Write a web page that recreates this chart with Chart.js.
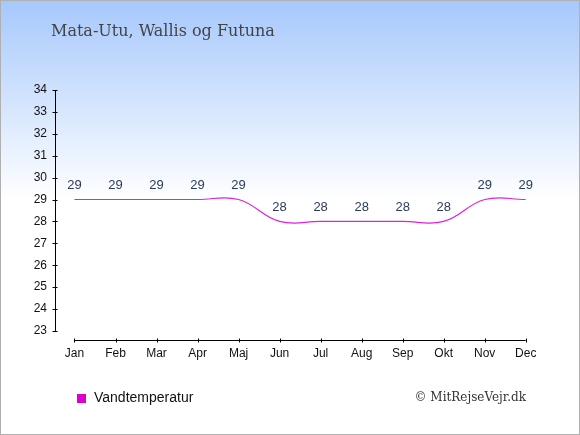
<!DOCTYPE html>
<html>
<head>
<meta charset="utf-8">
<script src="https://cdn.jsdelivr.net/npm/chart.js@4"></script>
<style>
  html, body { margin: 0; padding: 0; background: #fff; }
  canvas { display: block; }
</style>
</head>
<body>
<canvas id="tempChart" width="580" height="435"></canvas>
<script>
var months = ['Jan', 'Feb', 'Mar', 'Apr', 'Maj', 'Jun', 'Jul', 'Aug', 'Sep', 'Okt', 'Nov', 'Dec'];
var waterTemp = [29, 29, 29, 29, 29, 28, 28, 28, 28, 28, 29, 29];
var yTicks = [23, 24, 25, 26, 27, 28, 29, 30, 31, 32, 33, 34];

var titleText = 'Mata-Utu, Wallis og Futuna';
var legendText = 'Vandtemperatur';
var creditText = '\u00A9 MitRejseVejr.dk';

var lineColor = '#dd22dd';
var sans = '"Liberation Sans", Arial, sans-serif';
var serif = '"DejaVu Serif", "Liberation Serif", serif';

// background, axes, labels and the texts around the plot
var decorPlugin = {
    id: 'decor',
    beforeDraw: function (chart) {
        var c = chart.ctx;
        var g = c.createLinearGradient(0, 0, 0, 200);
        g.addColorStop(0, '#a6c8fc');
        g.addColorStop(1, '#ffffff');
        c.save();
        c.fillStyle = '#ffffff';
        c.fillRect(0, 0, chart.width, chart.height);
        c.fillStyle = g;
        c.fillRect(0, 0, chart.width, 200);
        c.restore();
    },
    afterDraw: function (chart) {
        var c = chart.ctx;
        var xs = chart.scales.x, ys = chart.scales.y;
        var axisX = chart.chartArea.left + 0.5;
        var axisY = Math.round(chart.chartArea.bottom) - 0.5;

        c.save();
        c.strokeStyle = '#000';
        c.lineWidth = 1;
        c.beginPath();
        // y axis
        c.moveTo(axisX, ys.getPixelForValue(yTicks[yTicks.length - 1]));
        c.lineTo(axisX, ys.getPixelForValue(yTicks[0]));
        yTicks.forEach(function (v) {
            var y = Math.round(ys.getPixelForValue(v)) + 0.5;
            c.moveTo(axisX - 3, y);
            c.lineTo(axisX + 2, y);
        });
        // x axis
        c.moveTo(xs.getPixelForValue(0), axisY);
        c.lineTo(xs.getPixelForValue(months.length - 1), axisY);
        months.forEach(function (m, i) {
            var x = Math.round(xs.getPixelForValue(i)) + 0.5;
            c.moveTo(x, axisY - 2);
            c.lineTo(x, axisY + 2);
        });
        c.stroke();

        // value labels above the points
        var meta = chart.getDatasetMeta(0);
        c.fillStyle = '#2a3b5c';
        c.font = '13px ' + sans;
        c.textAlign = 'center';
        c.textBaseline = 'middle';
        meta.data.forEach(function (pt, i) {
            c.fillText(String(waterTemp[i]), pt.x, pt.y - 14);
        });

        // title
        c.fillStyle = '#444444';
        c.font = '16px ' + serif;
        c.textAlign = 'left';
        c.fillText(titleText, 51, 32);

        // legend
        c.fillStyle = '#dd00cc';
        c.fillRect(77, 394, 9, 9);
        c.fillStyle = '#111111';
        c.font = '14px ' + sans;
        c.fillText(legendText, 94, 398);

        // credit
        c.fillStyle = '#333333';
        c.font = '12px ' + serif;
        c.textAlign = 'right';
        c.fillText(creditText, 526, 398);

        // frame
        c.strokeStyle = '#b0b0b0';
        c.strokeRect(0.5, 0.5, chart.width - 1, chart.height - 1);
        c.restore();
    }
};

var ctx = document.getElementById('tempChart');

var tempChart = new Chart(ctx, {
    type: 'line',
    data: {
        datasets: [{
            label: legendText,
            data: waterTemp.map(function (v, i) { return { x: i, y: v }; }),
            borderColor: lineColor,
            borderWidth: 1.2,
            pointRadius: 0,
            tension: 0.4,
            fill: false
        }]
    },
    options: {
        responsive: false,
        animation: false,
        layout: {
            padding: { top: 90, left: 0, right: 35, bottom: 64 }
        },
        scales: {
            x: {
                type: 'linear',
                min: -0.475,
                max: 11.47,
                afterBuildTicks: function (axis) {
                    axis.ticks = months.map(function (m, i) { return { value: i }; });
                },
                afterFit: function (axis) { axis.height = 30; },
                grid: { display: false, drawTicks: false },
                border: { display: false },
                ticks: {
                    autoSkip: false,
                    maxRotation: 0,
                    padding: 5,
                    color: '#111111',
                    font: { family: sans, size: 12 },
                    callback: function (v) { return months[v]; }
                }
            },
            y: {
                min: 22.54,
                max: 34,
                afterBuildTicks: function (axis) {
                    axis.ticks = yTicks.map(function (v) { return { value: v }; });
                },
                afterFit: function (axis) { axis.width = 55; },
                grid: { display: false, drawTicks: false },
                border: { display: false },
                ticks: {
                    padding: 8,
                    color: '#111111',
                    font: { family: sans, size: 12 }
                }
            }
        },
        plugins: {
            legend: { display: false },
            tooltip: { enabled: false }
        }
    },
    plugins: [decorPlugin]
});
</script>
</body>
</html>
